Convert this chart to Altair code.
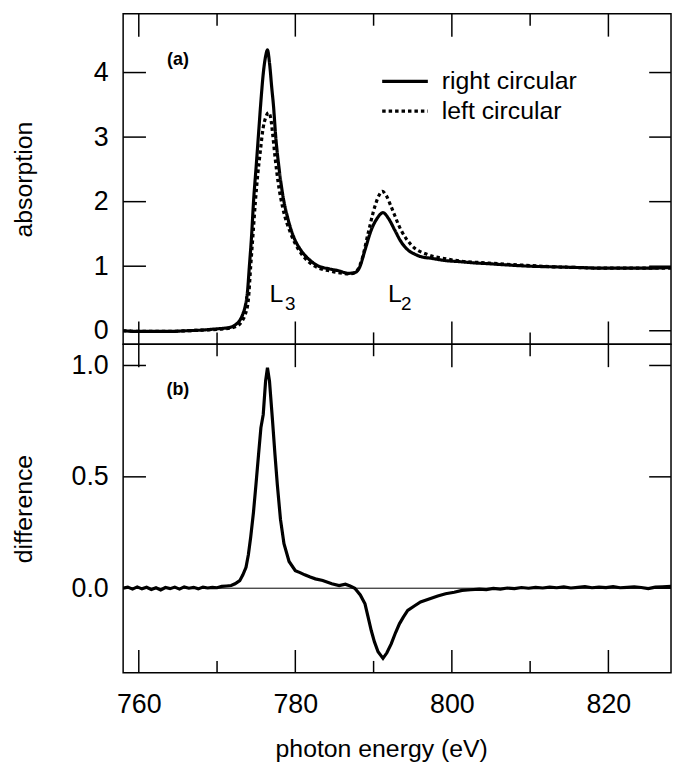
import altair as alt
import pandas as pd

# ---------------- data ----------------
energy_right = [758, 760, 762, 764, 766, 768, 770, 771, 771.6, 772.3, 772.95, 773.3, 773.6,
                773.9, 774.13, 774.4, 774.67, 775.0, 775.3, 775.6, 775.9, 776.2, 776.44, 776.7,
                777.0, 777.2, 777.5, 777.9, 778.4, 779.0, 779.8, 780.7, 781.8, 783.0, 784.3,
                785.5, 786.8, 787.6, 788.2, 788.9, 789.7, 790.5, 791.2, 791.9, 792.7, 793.5,
                794.4, 795.2, 796.0, 797.5, 799.0, 801, 803, 804.5, 807, 810, 813, 816, 819,
                822, 825, 828]
absorb_right = [0.0, -0.01, -0.01, -0.01, 0.0, 0.01, 0.03, 0.04, 0.05, 0.09, 0.17, 0.26, 0.38,
                0.62, 1.0, 1.45, 2.02, 2.55, 3.05, 3.55, 3.98, 4.25, 4.35, 4.15,
                3.75, 3.5, 3.0, 2.54, 2.1, 1.76, 1.45, 1.25, 1.1, 1.0, 0.96,
                0.93, 0.89, 0.9, 0.98, 1.25, 1.56, 1.75, 1.83, 1.74, 1.56, 1.38,
                1.25, 1.19, 1.15, 1.12, 1.09, 1.07, 1.05, 1.04, 1.02, 1.0, 0.99, 0.98, 0.97,
                0.97, 0.97, 0.98]

energy_left = [758, 760, 762, 764, 766, 768, 770, 771, 771.6, 772.3, 772.95, 773.3, 773.6,
               774.0, 774.3, 774.6, 774.9, 775.2, 775.5, 775.9, 776.2, 776.57, 776.85, 777.1,
               777.4, 777.8, 778.4, 779.4, 780.45, 781.5, 783.0, 784.3, 785.5, 786.8, 787.6,
               788.0, 788.5, 789.3, 790.15, 790.7, 791.1, 791.6, 792.25, 793.5, 794.8, 796.9,
               799, 801.1, 804.5, 807, 810, 813, 816, 819, 822, 825, 828]
absorb_left = [0.0, -0.01, -0.01, -0.01, 0.0, 0.01, 0.02, 0.03, 0.04, 0.06, 0.11, 0.17, 0.25,
               0.48, 1.0, 1.5, 2.0, 2.42, 2.75, 3.15, 3.3, 3.38, 3.3, 3.05,
               2.7, 2.3, 1.9, 1.51, 1.25, 1.09, 0.97, 0.93, 0.9, 0.88, 0.9,
               0.95, 1.1, 1.51, 1.92, 2.1, 2.16, 2.1, 1.92, 1.56, 1.33, 1.18,
               1.12, 1.08, 1.05, 1.03, 1.01, 0.99, 0.98, 0.97, 0.97, 0.97, 0.97]

energy_diff = [758, 758.6, 759.2, 759.8, 760.4, 761.0, 761.6, 762.2, 762.8, 763.4, 764.0, 764.6,
               765.2, 765.8, 766.4, 767.0, 767.6, 768.2, 768.8, 769.4, 770.0, 770.6, 771.2,
               771.8, 772.3, 772.9, 773.3, 773.7, 774.0, 774.3, 774.65, 774.97, 775.3, 775.6,
               775.9, 776.2, 776.44, 776.7, 777.07, 777.4, 777.7, 778.1, 778.55, 779.2, 780.0,
               780.6, 781.2, 781.9, 782.56, 783.5, 784.66, 785.6, 786.4, 787.0, 787.6, 788.3,
               788.9, 789.3, 789.7, 790.1, 790.57, 791.2, 791.7, 792.25, 792.8, 793.3, 793.8,
               794.36, 795.2, 796.0, 797.0, 798.2, 799.2, 800.3, 801.3, 802.4, 803.5, 804.4,
               805.3, 806.2, 807.1, 808.0, 808.9, 809.8, 810.7, 811.6, 812.5, 813.4, 814.3,
               815.2, 816.1, 817.0, 817.9, 818.8, 819.7, 820.6, 821.5, 822.4, 823.3, 824.2,
               825.1, 826.0, 826.9, 828]
diff_values = [0.0, 0.005, -0.004, 0.006, -0.003, 0.004, -0.006, 0.002, -0.008, 0.003, -0.002, 0.005,
               -0.004, 0.006, 0.0, 0.004, -0.003, 0.005, 0.001, 0.004, 0.002, 0.008, 0.01,
               0.012, 0.02, 0.034, 0.06, 0.094, 0.15, 0.23, 0.34, 0.465, 0.6, 0.72,
               0.78, 0.93, 0.99, 0.93, 0.76, 0.6, 0.465, 0.31, 0.2, 0.12, 0.079,
               0.07, 0.06, 0.05, 0.042, 0.035, 0.02, 0.012, 0.018, 0.01, 0.0, -0.03,
               -0.07, -0.13, -0.19, -0.24, -0.285, -0.315, -0.29, -0.25, -0.2, -0.16, -0.13,
               -0.1, -0.08, -0.062, -0.05, -0.035, -0.025, -0.018, -0.01, -0.007, -0.004, -0.006,
               -0.001, -0.004, 0.001, -0.002, 0.003, 0.0, 0.004, 0.001, 0.005, 0.002, 0.006,
               0.001, 0.004, 0.007, 0.002, 0.005, 0.003, 0.007, 0.002, 0.004, 0.006, 0.003,
               -0.002, 0.005, 0.006, 0.008]

series_names = ["right circular", "left circular"]
x_major = [760, 780, 800, 820]
x_minor = [770, 790, 810]
y_ticks_a = [0, 1, 2, 3, 4]
y_ticks_b = [0.0, 0.5, 1.0]

# ---------------- layout / style ----------------
W, HA, HB = 552, 333, 331
FONT = "Liberation Sans"
MAJ, MIN = 23, 12

xscale = alt.Scale(domain=[758, 828], nice=False, zero=False)
ya_scale = alt.Scale(domain=[-0.21, 4.91], nice=False, zero=False)
yb_scale = alt.Scale(domain=[-0.38, 1.095], nice=False, zero=False)

common_axis = dict(ticks=False, tickSize=0, domain=False, grid=False,
                   labelFont=FONT, titleFont=FONT, labelFontSize=27, titleFontSize=25,
                   labelColor="black", titleColor="black", titleFontWeight="normal")

ax_ya = alt.Axis(title="absorption", values=y_ticks_a, format="d", labelPadding=15,
                 titleX=-92, titleBaseline="alphabetic", **common_axis)
ax_yb = alt.Axis(title="difference", values=y_ticks_b, format=".1f", labelPadding=15,
                 titleX=-92, titleBaseline="alphabetic", **common_axis)
ax_x = alt.Axis(title="photon energy (eV)", values=x_major, format="d", labelPadding=19,
                titleX=260, titleY=84, titleBaseline="alphabetic", titleAlign="center",
                **common_axis)

spec = pd.concat([
    pd.DataFrame({"E": energy_right, "v": absorb_right, "pol": series_names[0]}),
    pd.DataFrame({"E": energy_left, "v": absorb_left, "pol": series_names[1]}),
])
diff_df = pd.DataFrame({"E": energy_diff, "d": diff_values})


def x_enc(field, xaxis):
    if xaxis is None:
        return alt.X(field, type="quantitative", scale=xscale, axis=None)
    return alt.X(field, type="quantitative", scale=xscale, axis=xaxis)


def frame_ticks(H, yvals, yscale, yaxis, xaxis):
    layers = []
    for vals, ln in ((x_major, MAJ), (x_minor, MIN)):
        d = pd.DataFrame({"t": vals})
        base = alt.Chart(d).mark_rule(color="black", strokeWidth=1.5)
        layers.append(base.encode(x=x_enc("t", xaxis), y=alt.value(0), y2=alt.value(ln)))
        layers.append(base.encode(x=x_enc("t", xaxis), y=alt.value(H), y2=alt.value(H - ln)))
    d = pd.DataFrame({"yt": yvals})
    base = alt.Chart(d).mark_rule(color="black", strokeWidth=1.5)
    yenc = alt.Y("yt:Q", scale=yscale, axis=yaxis)
    layers.append(base.encode(y=yenc, x=alt.value(0), x2=alt.value(MAJ)))
    layers.append(base.encode(y=yenc, x=alt.value(W), x2=alt.value(W - 22)))
    return layers


# ---------------- panel (a) ----------------
lines_a = alt.Chart(spec).mark_line(color="black", strokeWidth=3.2, interpolate="monotone",
                                    clip=True).encode(
    x=x_enc("E", None),
    y=alt.Y("v:Q", scale=ya_scale, axis=ax_ya),
    strokeDash=alt.StrokeDash(
        "pol:N",
        scale=alt.Scale(domain=series_names, range=[[1, 0], [3.5, 3]]),
        sort=series_names,
        legend=alt.Legend(title=None, orient="none", legendX=259, legendY=55,
                          symbolType="stroke", symbolSize=2116, symbolStrokeWidth=3.2,
                          symbolStrokeColor="black", labelFont=FONT, labelFontSize=25,
                          labelColor="black", labelOffset=12, clipHeight=26,
                          rowPadding=4, padding=0),
    ),
    detail="pol:N",
)

annot_a = pd.DataFrame({"E": [776.7, 791.83], "v": [0.446, 0.446], "txt": ["L", "L"]})
subs_a = pd.DataFrame({"E": [778.68, 793.5], "v": [0.317, 0.317], "txt": ["3", "2"]})
panel_a_lab = pd.DataFrame({"E": [765.0], "v": [4.19], "txt": ["(a)"]})

txt_a = alt.Chart(annot_a).mark_text(font=FONT, fontSize=25, align="left",
                                     baseline="alphabetic", color="black").encode(
    x=x_enc("E", None), y=alt.Y("v:Q", scale=ya_scale, axis=ax_ya), text="txt:N")
sub_a = alt.Chart(subs_a).mark_text(font=FONT, fontSize=19, align="left",
                                    baseline="alphabetic", color="black").encode(
    x=x_enc("E", None), y=alt.Y("v:Q", scale=ya_scale, axis=ax_ya), text="txt:N")
lab_a = alt.Chart(panel_a_lab).mark_text(font=FONT, fontSize=18, fontWeight="bold",
                                         align="center", baseline="middle",
                                         color="black").encode(
    x=x_enc("E", None), y=alt.Y("v:Q", scale=ya_scale, axis=ax_ya), text="txt:N")

panel_a = alt.layer(
    lines_a, txt_a, sub_a, lab_a,
    *frame_ticks(HA, y_ticks_a, ya_scale, ax_ya, None)
).properties(width=W, height=HA)

# ---------------- panel (b) ----------------
zero_df = pd.DataFrame({"z": [0.0]})
zero_line = alt.Chart(zero_df).mark_rule(color="black", strokeWidth=1).encode(
    y=alt.Y("z:Q", scale=yb_scale, axis=ax_yb))

line_b = alt.Chart(diff_df).mark_line(color="black", strokeWidth=3.2, clip=True).encode(
    x=x_enc("E", ax_x), y=alt.Y("d:Q", scale=yb_scale, axis=ax_yb))

panel_b_lab = pd.DataFrame({"E": [765.0], "d": [0.89], "txt": ["(b)"]})
lab_b = alt.Chart(panel_b_lab).mark_text(font=FONT, fontSize=18, fontWeight="bold",
                                         align="center", baseline="middle",
                                         color="black").encode(
    x=x_enc("E", ax_x), y=alt.Y("d:Q", scale=yb_scale, axis=ax_yb), text="txt:N")

panel_b = alt.layer(
    zero_line, line_b, lab_b,
    *frame_ticks(HB, y_ticks_b, yb_scale, ax_yb, ax_x)
).properties(width=W, height=HB)

chart = alt.vconcat(panel_a, panel_b, spacing=0, bounds="flush").properties(
    padding={"left": 3, "top": 1, "right": 0, "bottom": 0}
).configure_view(stroke="black", strokeWidth=1.5)

chart.save("out.html", embed_options={"renderer": "svg", "actions": False})
